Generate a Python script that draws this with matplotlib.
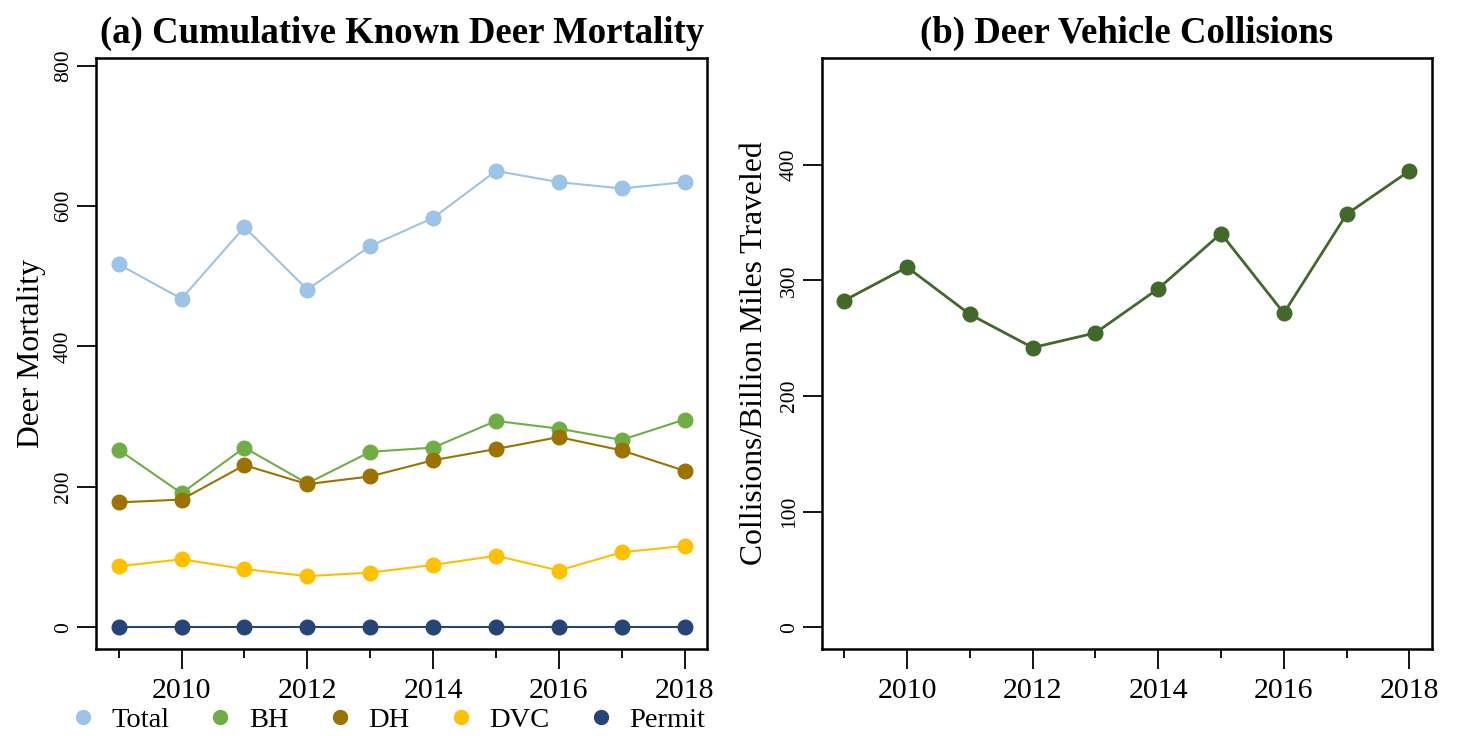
import matplotlib
matplotlib.use("Agg")
import matplotlib.pyplot as plt
from matplotlib.ticker import FixedLocator
from matplotlib.lines import Line2D

years = [2009, 2010, 2011, 2012, 2013, 2014, 2015, 2016, 2017, 2018]
total = [517, 468, 570, 481, 543, 583, 650, 634, 625, 634]
bh = [253, 191, 256, 205, 250, 256, 294, 283, 267, 296]
dh = [178, 182, 231, 204, 215, 238, 254, 271, 252, 223]
dvc = [87, 97, 83, 73, 78, 89, 102, 81, 107, 116]
permit = [0, 0, 0, 0, 0, 0, 0, 0, 0, 0]
dvc_rate = [282.5, 311.3, 270.5, 241.8, 254.5, 292.7, 340.4, 271.6, 357.1, 394.5]

series_names = ["Total", "BH", "DH", "DVC", "Permit"]
series_vals = [total, bh, dh, dvc, permit]
series_cols = ["#9DC3E6", "#70AD47", "#9C7300", "#FFC000", "#264478"]
rate_col = "#43682B"

left_yticks = [0, 200, 400, 600, 800]
right_yticks = [0, 100, 200, 300, 400]
major_years = [2010, 2012, 2014, 2016, 2018]
minor_years = [2009, 2011, 2013, 2015, 2017]

plt.rcParams['font.family'] = ['Liberation Serif', 'DejaVu Serif']

fig = plt.figure(figsize=(14.57, 7.36), dpi=100)
ax1 = fig.add_axes([96/1457, 1-649.3/736, (707.3-96)/1457, (649.3-57.7)/736])
ax2 = fig.add_axes([821.7/1457, 1-649.3/736, (1432-821.7)/1457, (649.3-57.7)/736])

def style(ax, ymax):
    ax.set_ylim(-0.04 * ymax, 1.04 * ymax)
    ax.set_xlim(2009 - 0.36, 2018 + 0.36)
    for s in ax.spines.values():
        s.set_linewidth(1.8)
    ax.xaxis.set_major_locator(FixedLocator(major_years))
    ax.xaxis.set_minor_locator(FixedLocator(minor_years))
    ax.set_xticklabels([str(y) for y in major_years])
    ax.tick_params(axis='x', which='major', length=14.5, width=1.3, labelsize=21.5, pad=6)
    ax.tick_params(axis='x', which='minor', length=6.5, width=1.3)
    ax.tick_params(axis='y', which='major', length=13.5, width=1.3, labelsize=15.5, pad=3)
    for lab in ax.get_yticklabels():
        lab.set_rotation(90)
        lab.set_va('center')

# Panel (a)
for name, vals, col in zip(series_names, series_vals, series_cols):
    ax1.plot(years, vals, color=col, lw=1.5, marker='o', ms=10.5, label=name, zorder=3)
ax1.set_yticks(left_yticks)
ax1.set_yticklabels([str(v) for v in left_yticks])
style(ax1, 1.2 * max(total))
ax1.set_ylabel("Deer Mortality", fontsize=22.8, labelpad=6)
ax1.set_title("(a) Cumulative Known Deer Mortality", fontsize=26.5, fontweight='bold', pad=11)

# Panel (b)
ax2.plot(years, dvc_rate, color=rate_col, lw=2, marker='o', ms=10.5, zorder=3)
ax2.set_yticks(right_yticks)
ax2.set_yticklabels([str(v) for v in right_yticks])
style(ax2, 1.2 * max(dvc_rate))
ax2.set_ylabel("Collisions/Billion Miles Traveled", fontsize=22.8, labelpad=8)
ax2.set_title("(b) Deer Vehicle Collisions", fontsize=26.5, fontweight='bold', pad=11)

handles = [Line2D([], [], color=c, marker='o', ls='none', ms=10) for c in series_cols]
fig.legend(handles, series_names, loc='center', bbox_to_anchor=(388/1457, 1-720/736),
           ncol=5, frameon=False, fontsize=20.5, handlelength=0.8, handletextpad=0.6,
           columnspacing=1.4, borderpad=0)

fig.savefig("out.png", dpi=100)
